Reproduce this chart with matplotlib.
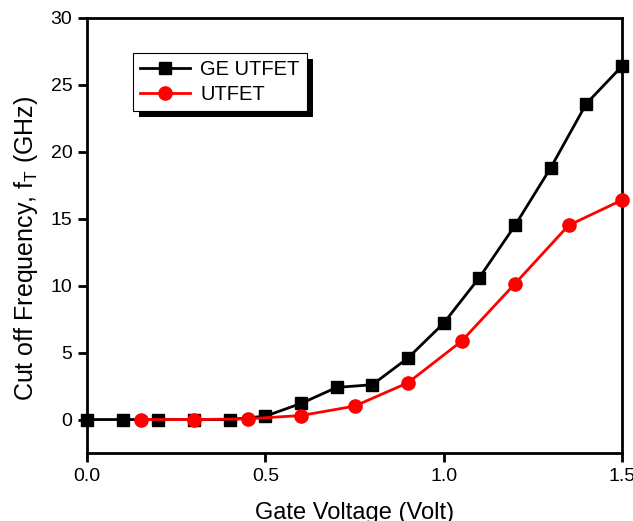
import matplotlib
matplotlib.use("Agg")
import matplotlib.pyplot as plt
from matplotlib.patches import Rectangle

plt.rcParams.update({
    "font.family": "Liberation Sans",
    "font.size": 14,
    "axes.linewidth": 2.0,
})

# GE UTFET (black squares)
vg_ge = [0.0, 0.1, 0.2, 0.3, 0.4, 0.5, 0.6, 0.7, 0.8, 0.9, 1.0, 1.1, 1.2, 1.3, 1.4, 1.5]
ft_ge = [0.0, 0.0, 0.0, 0.0, 0.0, 0.25, 1.2, 2.4, 2.6, 4.6, 7.2, 10.6, 14.5, 18.8, 23.6, 26.4]

# UTFET (red circles)
vg_ut = [0.15, 0.3, 0.45, 0.6, 0.75, 0.9, 1.05, 1.2, 1.35, 1.5]
ft_ut = [0.0, 0.0, 0.05, 0.3, 1.0, 2.75, 5.85, 10.15, 14.5, 16.4]

xticks = [0.0, 0.5, 1.0, 1.5]
xticklabels = ["0.0", "0.5", "1.0", "1.5"]
yticks = [0, 5, 10, 15, 20, 25, 30]

fig = plt.figure(figsize=(6.33, 5.21), dpi=100)
ax = fig.add_axes([87 / 633, 1 - 453 / 521, 535 / 633, 435 / 521])

ax.plot(vg_ge, ft_ge, color="black", marker="s", markersize=8.5, linewidth=2.0,
        label="GE UTFET", clip_on=False, zorder=3)
ax.plot(vg_ut, ft_ut, color="red", marker="o", markersize=9.5, linewidth=2.0,
        label="UTFET", clip_on=False, zorder=3)

ax.set_xlim(0, 1.5)
ax.set_ylim(-2.5, 30)
ax.set_xticks(xticks)
ax.set_xticklabels(xticklabels)
ax.set_yticks(yticks)
ax.tick_params(direction="out", length=6.5, width=2.0, labelsize=14, pad=4)

ax.set_xlabel("Gate Voltage (Volt)", fontsize=17)
ax.xaxis.set_label_coords(0.5, -0.113)
ax.set_ylabel("Cut off Frequency, f$_\\mathregular{T}$ (GHz)", fontsize=18)
ax.yaxis.set_label_coords(-0.088, 0.47)

leg = ax.legend(loc="upper left", bbox_to_anchor=(0.086, 0.92), borderaxespad=0,
                fontsize=14.5, frameon=True, fancybox=False, framealpha=1,
                edgecolor="black", handlelength=2.5, borderpad=0.35,
                labelspacing=0.3, handletextpad=0.5)
leg.get_frame().set_linewidth(0.8)
leg.set_zorder(6)

# solid drop shadow behind the legend box
fig.canvas.draw()
bb = leg.get_window_extent()
ax.add_patch(Rectangle((bb.x0 + 6, bb.y0 - 6), bb.width, bb.height,
                       transform=None, facecolor="black", edgecolor="none",
                       zorder=5, clip_on=False))

fig.savefig("out.png", dpi=100)
